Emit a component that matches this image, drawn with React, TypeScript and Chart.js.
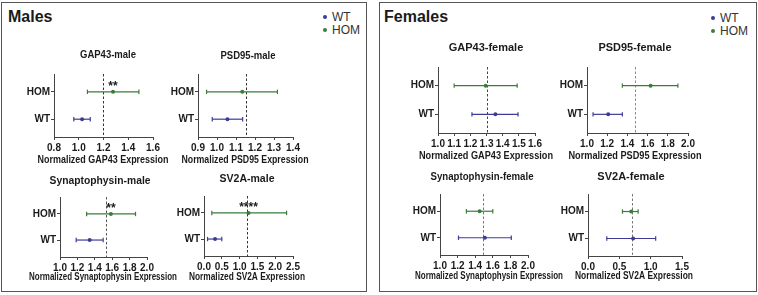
import React, { useEffect, useRef } from 'react';
import { Chart, registerables } from 'chart.js';

Chart.register(...registerables);

const FONT = '"Liberation Sans", Arial, Helvetica, sans-serif';
const TEXT = '#1a1a1a';
const AXIS = '#444444';
const WT_COLOR = '#3c3c95';
const HOM_COLOR = '#3b7c3b';

// categories on the y axis (top to bottom) and legend order
const categories = ['HOM', 'WT'];
const legendLabels = ['WT', 'HOM'];

// each group: [lower, mean, upper]
const gap43MaleWT = [0.96, 1.027, 1.093];
const gap43MaleHOM = [1.07, 1.277, 1.486];
const gap43MaleTicks = [0.8, 1.0, 1.2, 1.4, 1.6];
const gap43MaleRef = 1.2;
const gap43MaleStars = '**';

const psd95MaleWT = [0.975, 1.055, 1.135];
const psd95MaleHOM = [0.945, 1.133, 1.318];
const psd95MaleTicks = [0.9, 1.0, 1.1, 1.2, 1.3, 1.4];
const psd95MaleRef = 1.15;

const synMaleWT = [1.186, 1.341, 1.496];
const synMaleHOM = [1.306, 1.585, 1.868];
const synMaleTicks = [1.0, 1.2, 1.4, 1.6, 1.8, 2.0];
const synMaleRef = 1.53;
const synMaleStars = '**';

const sv2aMaleWT = [0.1, 0.31, 0.5];
const sv2aMaleHOM = [0.22, 1.25, 2.32];
const sv2aMaleTicks = [0.0, 0.5, 1.0, 1.5, 2.0, 2.5];
const sv2aMaleRef = 1.2;
const sv2aMaleStars = '****';

const gap43FemaleWT = [1.21, 1.355, 1.495];
const gap43FemaleHOM = [1.1, 1.295, 1.49];
const gap43FemaleTicks = [1.0, 1.1, 1.2, 1.3, 1.4, 1.5, 1.6];
const gap43FemaleRef = 1.3;

const psd95FemaleWT = [1.06, 1.21, 1.35];
const psd95FemaleHOM = [1.35, 1.63, 1.9];
const psd95FemaleTicks = [1.0, 1.2, 1.4, 1.6, 1.8, 2.0];
const psd95FemaleRef = 1.48;

const synFemaleWT = [1.21, 1.51, 1.81];
const synFemaleHOM = [1.3, 1.45, 1.6];
const synFemaleTicks = [1.0, 1.2, 1.4, 1.6, 1.8, 2.0];
const synFemaleRef = 1.49;

const sv2aFemaleWT = [0.3, 0.72, 1.08];
const sv2aFemaleHOM = [0.55, 0.69, 0.8];
const sv2aFemaleTicks = [0.0, 0.5, 1.0, 1.5];
const sv2aFemaleRef = 0.71;

type Spec = {
  title: string;
  xTitle: string;
  ticks: number[];
  wt: number[];
  hom: number[];
  refValue: number;
  stars?: string;
  refColor: string;
  area: { l: number; r: number; t: number; b: number };
  titlePos: [number, number, number];
  xTitlePos: [number, number, number];
};

// titlePos / xTitlePos: [centre x, centre y, max width]
const specs: Spec[] = [
  {
    title: 'GAP43-male', xTitle: 'Normalized GAP43 Expression', ticks: gap43MaleTicks,
    wt: gap43MaleWT, hom: gap43MaleHOM, refValue: gap43MaleRef, stars: gap43MaleStars, refColor: '#333',
    area: { l: 54, r: 153, t: 74, b: 137 }, titlePos: [108, 55, 56], xTitlePos: [103, 160, 131],
  },
  {
    title: 'PSD95-male', xTitle: 'Normalized PSD95 Expression', ticks: psd95MaleTicks,
    wt: psd95MaleWT, hom: psd95MaleHOM, refValue: psd95MaleRef, refColor: '#333',
    area: { l: 198, r: 293, t: 74, b: 137 }, titlePos: [248, 56, 55], xTitlePos: [245, 160, 127],
  },
  {
    title: 'Synaptophysin-male', xTitle: 'Normalized Synaptophysin Expression', ticks: synMaleTicks,
    wt: synMaleWT, hom: synMaleHOM, refValue: synMaleRef, stars: synMaleStars, refColor: '#555',
    area: { l: 60, r: 147, t: 197, b: 257 }, titlePos: [100, 181, 101], xTitlePos: [103, 277, 148],
  },
  {
    title: 'SV2A-male', xTitle: 'Normalized SV2A Expression', ticks: sv2aMaleTicks,
    wt: sv2aMaleWT, hom: sv2aMaleHOM, refValue: sv2aMaleRef, stars: sv2aMaleStars, refColor: '#333',
    area: { l: 204, r: 293, t: 196, b: 256 }, titlePos: [247, 179, 55], xTitlePos: [247, 277, 116],
  },
  {
    title: 'GAP43-female', xTitle: 'Normalized GAP43 Expression', ticks: gap43FemaleTicks,
    wt: gap43FemaleWT, hom: gap43FemaleHOM, refValue: gap43FemaleRef, refColor: '#444',
    area: { l: 438, r: 535, t: 67, b: 133 }, titlePos: [486, 48, 75], xTitlePos: [486, 156, 134],
  },
  {
    title: 'PSD95-female', xTitle: 'Normalized PSD95 Expression', ticks: psd95FemaleTicks,
    wt: psd95FemaleWT, hom: psd95FemaleHOM, refValue: psd95FemaleRef, refColor: '#8a8a8a',
    area: { l: 587, r: 688, t: 67, b: 133 }, titlePos: [635, 48, 73], xTitlePos: [635, 156, 133],
  },
  {
    title: 'Synaptophysin-female', xTitle: 'Normalized Synaptophysin Expression', ticks: synFemaleTicks,
    wt: synFemaleWT, hom: synFemaleHOM, refValue: synFemaleRef, refColor: '#777',
    area: { l: 440, r: 528, t: 194, b: 255 }, titlePos: [482, 177, 103], xTitlePos: [489, 276, 148],
  },
  {
    title: 'SV2A-female', xTitle: 'Normalized SV2A Expression', ticks: sv2aFemaleTicks,
    wt: sv2aFemaleWT, hom: sv2aFemaleHOM, refValue: sv2aFemaleRef, refColor: '#777',
    area: { l: 588, r: 682, t: 194, b: 256 }, titlePos: [631, 177, 73], xTitlePos: [634, 276, 118],
  },
];

const Y_W = 45;
const PAD_T = 30;
const PAD_R = 45;
const X_H = 32;

const yOf = (cat: string) => categories.length - categories.indexOf(cat);

function ForestPlot({ spec }: { spec: Spec }) {
  const ref = useRef<HTMLCanvasElement>(null);
  const L = spec.area.l - Y_W;
  const T = spec.area.t - PAD_T;
  const W = spec.area.r - spec.area.l + Y_W + PAD_R;
  const H = spec.area.b - spec.area.t + PAD_T + X_H;

  useEffect(() => {
    if (!ref.current) return;
    const groups = [
      { name: 'HOM', vals: spec.hom, color: HOM_COLOR },
      { name: 'WT', vals: spec.wt, color: WT_COLOR },
    ];
    const datasets: any[] = [];
    groups.forEach((g) => {
      const y = yOf(g.name);
      datasets.push({
        type: 'scatter',
        label: g.name + ' range',
        data: [{ x: g.vals[0], y }, { x: g.vals[2], y }],
        showLine: true,
        borderColor: g.color,
        borderWidth: 1.2,
        pointStyle: 'line',
        pointRotation: 90,
        pointRadius: 2.2,
        pointHoverRadius: 2.2,
        pointBorderColor: g.color,
        pointBorderWidth: 1.2,
      });
      datasets.push({
        type: 'scatter',
        label: g.name,
        data: [{ x: g.vals[1], y }],
        pointStyle: 'circle',
        pointRadius: 2,
        pointHoverRadius: 2,
        backgroundColor: g.color,
        borderColor: g.color,
        borderWidth: 0,
      });
    });

    const extras = {
      id: 'forestExtras',
      beforeDatasetsDraw(chart: any) {
        const { ctx, chartArea, scales } = chart;
        const x = Math.round(scales.x.getPixelForValue(spec.refValue)) + 0.5;
        ctx.save();
        ctx.strokeStyle = spec.refColor;
        ctx.lineWidth = 1;
        ctx.setLineDash([2.5, 2]);
        ctx.beginPath();
        ctx.moveTo(x, chartArea.top);
        ctx.lineTo(x, chartArea.bottom);
        ctx.stroke();
        ctx.restore();
      },
      afterDraw(chart: any) {
        const { ctx, scales } = chart;
        ctx.save();
        ctx.fillStyle = TEXT;
        ctx.textAlign = 'center';
        ctx.textBaseline = 'middle';
        ctx.font = `bold 11px ${FONT}`;
        ctx.fillText(spec.title, spec.titlePos[0] - L, spec.titlePos[1] - T, spec.titlePos[2]);
        ctx.font = `bold 10px ${FONT}`;
        ctx.fillText(spec.xTitle, spec.xTitlePos[0] - L, spec.xTitlePos[1] - T, spec.xTitlePos[2]);
        if (spec.stars) {
          ctx.font = `bold 12px ${FONT}`;
          const sx = scales.x.getPixelForValue(spec.hom[1]);
          const sy = scales.y.getPixelForValue(yOf('HOM')) - 5.5;
          ctx.fillText(spec.stars, sx, sy);
        }
        ctx.restore();
      },
    };

    const ticks = spec.ticks;
    const chart = new Chart(ref.current, {
      type: 'scatter',
      data: { datasets },
      options: {
        animation: false,
        responsive: false,
        devicePixelRatio: 1,
        events: [],
        layout: { padding: { top: PAD_T, right: PAD_R, left: 0, bottom: 0 } },
        plugins: { legend: { display: false }, tooltip: { enabled: false }, title: { display: false } },
        scales: {
          x: {
            type: 'linear',
            min: ticks[0],
            max: ticks[ticks.length - 1],
            afterBuildTicks: (s: any) => {
              s.ticks = ticks.map((v) => ({ value: v }));
            },
            afterFit: (s: any) => {
              s.height = X_H;
            },
            ticks: {
              autoSkip: false,
              maxRotation: 0,
              padding: 2,
              color: TEXT,
              font: { family: FONT, size: 10, weight: 'bold' },
              callback: (v: any) => Number(v).toFixed(1),
            },
            grid: { drawOnChartArea: false, drawTicks: true, tickLength: 3, color: AXIS, lineWidth: 1 },
            border: { display: true, color: AXIS, width: 1 },
          },
          y: {
            type: 'linear',
            min: 0.35,
            max: 2.65,
            afterBuildTicks: (s: any) => {
              s.ticks = categories.map((c) => ({ value: yOf(c) }));
            },
            afterFit: (s: any) => {
              s.width = Y_W;
            },
            ticks: {
              autoSkip: false,
              padding: 1,
              color: TEXT,
              font: { family: FONT, size: 10, weight: 'bold' },
              callback: (v: any) => {
                const c = categories.find((cat) => yOf(cat) === v);
                return c || '';
              },
            },
            grid: { drawOnChartArea: false, drawTicks: true, tickLength: 3, color: AXIS, lineWidth: 1 },
            border: { display: true, color: AXIS, width: 1 },
          },
        },
      } as any,
      plugins: [extras],
    } as any);
    return () => chart.destroy();
  }, []);

  return (
    <canvas
      ref={ref}
      width={W}
      height={H}
      style={{ position: 'absolute', left: L, top: T, width: W, height: H }}
    />
  );
}

function Legend({ x, y }: { x: number; y: number }) {
  const colors: Record<string, string> = { WT: WT_COLOR, HOM: HOM_COLOR };
  return (
    <>
      {legendLabels.map((name, i) => (
        <React.Fragment key={name}>
          <div
            style={{
              position: 'absolute',
              left: x - 2,
              top: y + i * 13 - 2,
              width: 4,
              height: 4,
              borderRadius: 2,
              background: colors[name],
            }}
          />
          <div
            style={{
              position: 'absolute',
              left: x + 7,
              top: y + i * 13 - 6,
              fontSize: 12,
              lineHeight: '12px',
              color: '#333',
              fontFamily: FONT,
              whiteSpace: 'nowrap',
            }}
          >
            {name}
          </div>
        </React.Fragment>
      ))}
    </>
  );
}

export default function App() {
  const panelStyle: React.CSSProperties = {
    position: 'absolute',
    top: 2,
    height: 290,
    border: '1.5px solid #555',
    boxSizing: 'border-box',
  };
  const headStyle: React.CSSProperties = {
    position: 'absolute',
    top: 9,
    fontSize: 16,
    lineHeight: '16px',
    fontWeight: 'bold',
    color: TEXT,
    fontFamily: FONT,
  };
  return (
    <div
      style={{
        position: 'fixed',
        left: 0,
        top: 0,
        width: 758,
        height: 295,
        background: '#fff',
        overflow: 'hidden',
        fontFamily: FONT,
      }}
    >
      <div style={{ ...panelStyle, left: 1, width: 366 }} />
      <div style={{ ...panelStyle, left: 379, width: 378 }} />
      <div style={{ ...headStyle, left: 8 }}>Males</div>
      <div style={{ ...headStyle, left: 384 }}>Females</div>
      <Legend x={325} y={17} />
      <Legend x={713} y={18} />
      {specs.map((s) => (
        <ForestPlot key={s.title} spec={s} />
      ))}
    </div>
  );
}
